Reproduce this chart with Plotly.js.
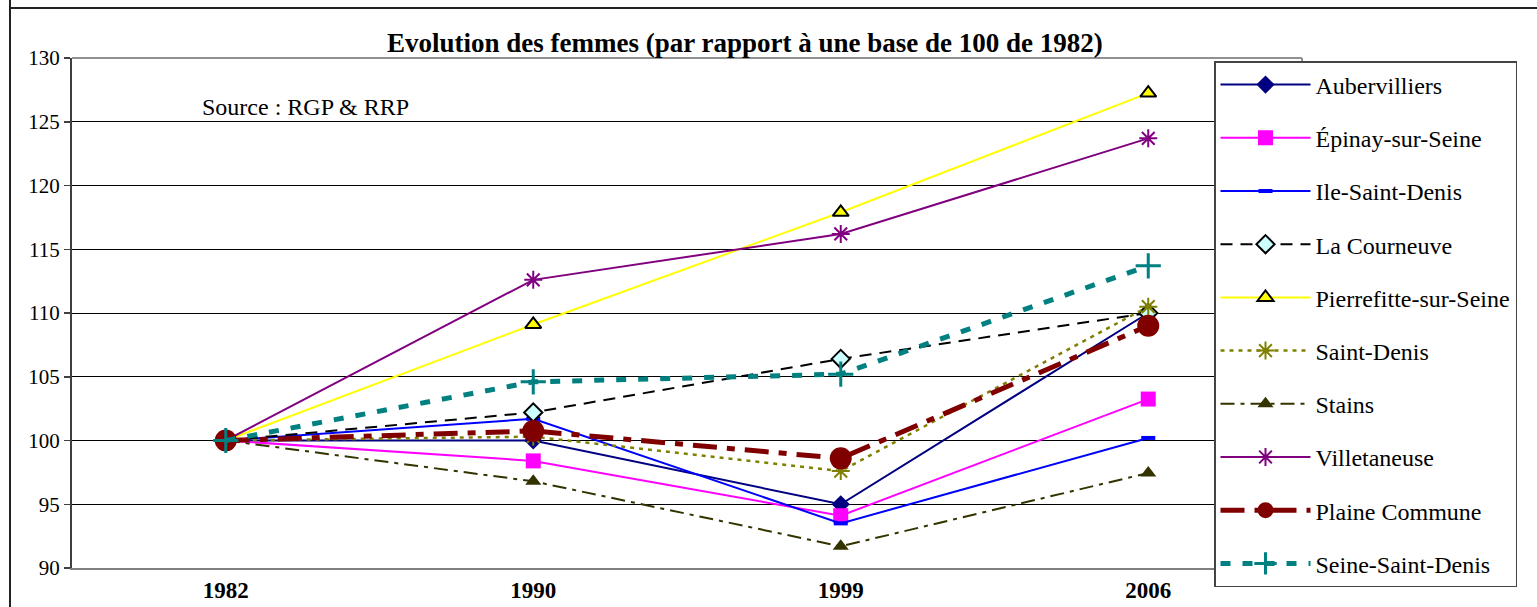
<!DOCTYPE html>
<html>
<head>
<meta charset="utf-8">
<script src="https://cdn.plot.ly/plotly-3.0.1.min.js"></script>
<style>
html,body{margin:0;padding:0;background:#fff;}
#chart{position:absolute;left:0;top:0;width:1537px;height:607px;}
.vline{position:absolute;left:9px;top:0;width:2px;height:607px;background:#222;z-index:5;}
.hline{position:absolute;left:9px;top:7px;width:1528px;height:2px;background:#222;z-index:5;}
</style>
</head>
<body>
<div id="chart"></div>
<div class="vline"></div>
<div class="hline"></div>
<script>
const years = ['1982', '1990', '1999', '2006'];
const aubervilliers = [100, 100.0, 95.0, 110.0];
const epinay = [100, 98.4, 94.1, 103.25];
const ileSaintDenis = [100, 101.7, 93.5, 100.2];
const laCourneuve = [100, 102.2, 106.4, 110.0];
const pierrefitte = [100, 109.1, 117.9, 127.25];
const saintDenis = [100, 100.3, 97.6, 110.5];
const stains = [100, 96.8, 91.7, 97.45];
const villetaneuse = [100, 112.6, 116.2, 123.7];
const plaineCommune = [100, 100.75, 98.6, 109.0];
const seineSaintDenis = [100, 104.6, 105.2, 113.7];
const names = ['Aubervilliers', 'Épinay-sur-Seine', 'Ile-Saint-Denis', 'La Courneuve',
  'Pierrefitte-sur-Seine', 'Saint-Denis', 'Stains', 'Villetaneuse', 'Plaine Commune', 'Seine-Saint-Denis'];
const series = [aubervilliers, epinay, ileSaintDenis, laCourneuve, pierrefitte, saintDenis, stains, villetaneuse, plaineCommune, seineSaintDenis];

const styles = [
  {line:{color:'#000080', width:2}, marker:{symbol:'diamond', size:14, color:'#000080'}},
  {line:{color:'#FF00FF', width:2}, marker:{symbol:'square', size:15, color:'#FF00FF'}},
  {line:{color:'#0000FF', width:2}, marker:{symbol:'line-ew-open', size:10, color:'#0000FF', line:{width:4, color:'#0000FF'}}},
  {line:{color:'#000000', width:2, dash:'12px,8px'}, marker:{symbol:'diamond', size:14, color:'#CCFFFF', line:{width:2, color:'#000000'}}},
  {line:{color:'#FFFF00', width:2}, marker:{symbol:'triangle-up', size:14, color:'#FFFF00', line:{width:2, color:'#000000'}}},
  {line:{color:'#808000', width:2.5, dash:'4px,5px'}, marker:{symbol:'asterisk-open', size:15, color:'#808000', line:{width:2, color:'#808000'}}},
  {line:{color:'#333300', width:2, dash:'14px,6px,4px,6px'}, marker:{symbol:'triangle-up', size:14, color:'#333300'}},
  {line:{color:'#800080', width:2}, marker:{symbol:'asterisk-open', size:15, color:'#800080', line:{width:2, color:'#800080'}}},
  {line:{color:'#800000', width:5, dash:'24px,10px,8px,10px'}, marker:{symbol:'circle', size:22, color:'#800000'}},
  {line:{color:'#008080', width:5, dash:'10px,12px'}, marker:{symbol:'cross-thin-open', size:18, color:'#008080', line:{width:3, color:'#008080'}}}
];

const traces = series.map((s, i) => ({
  type:'scatter', mode:'lines+markers', x: years, y: s, name: names[i],
  legendgroup: 'g' + i,
  line: styles[i].line, marker: styles[i].marker
}));

const serif = '"Liberation Serif", "Times New Roman", serif';
const layout = {
  width:1537, height:607,
  margin:{l:72, r:235, t:58, b:39},
  paper_bgcolor:'#fff', plot_bgcolor:'#fff',
  font:{family:serif, color:'#000', size:21},
  title:{text:'<b>Evolution des femmes (par rapport à une base de 100 de 1982)</b>',
    font:{size:27, family:serif, color:'#000'},
    xref:'paper', x:0.547, xanchor:'center', yref:'container', y:1-43/607, yanchor:'middle'},
  xaxis:{type:'category', range:[-0.5, 3.5], showgrid:false, zeroline:false,
    showline:true, linecolor:'#808080', linewidth:2, ticks:'', mirror:false,
    tickfont:{size:23, family:serif},
    ticktext: years.map(y => '<b>' + y + '</b>'), tickvals: years},
  yaxis:{range:[90, 130], dtick:5, tick0:90, showgrid:true, gridcolor:'#000', gridwidth:1,
    zeroline:false, showline:true, linecolor:'#404040', linewidth:2, ticks:'outside', ticklen:6,
    tickcolor:'#404040', tickwidth:1.5, tickfont:{size:21}},
  shapes:[
    {type:'line', xref:'paper', yref:'paper', x0:0, x1:1, y0:1, y1:1, line:{color:'#909090', width:2}},
    {type:'line', xref:'paper', yref:'paper', x0:1, x1:1, y0:0, y1:1, line:{color:'#909090', width:2}}
  ],
  annotations:[
    {text:'Source : RGP & RRP', xref:'paper', yref:'paper', x:(200-72)/1230, y:(568-107)/510,
      xanchor:'left', yanchor:'middle', showarrow:false, font:{size:24}}
  ],
  showlegend:true,
  legend:{x:(1214-72)/1230, y:(568-61)/510, xanchor:'left', yanchor:'top',
    bgcolor:'#fff', bordercolor:'#444', borderwidth:1.5, maxheight:560,
    font:{size:24}, tracegroupgap:19, itemwidth:90}
};

Plotly.newPlot('chart', traces, layout, {staticPlot:true});
</script>
</body>
</html>
